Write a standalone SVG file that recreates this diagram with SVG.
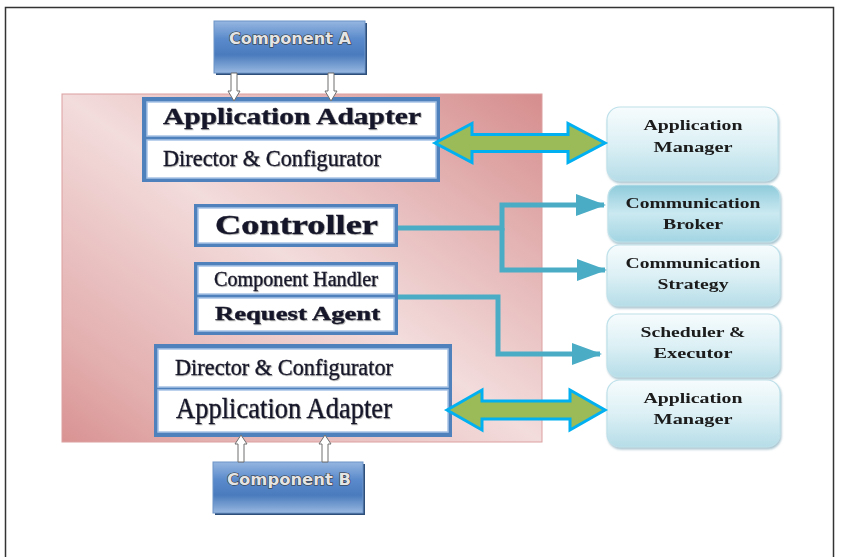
<svg xmlns="http://www.w3.org/2000/svg" width="844" height="557" viewBox="0 0 844 557">
<defs>
<linearGradient id="gPanel" x1="1" y1="0" x2="0" y2="1">
<stop offset="0" stop-color="#d68d8d"/>
<stop offset="0.5" stop-color="#f3dcdc"/>
<stop offset="0.85" stop-color="#e3aeae"/>
<stop offset="1" stop-color="#d99292"/>
</linearGradient>
<linearGradient id="gComp" x1="0" y1="0" x2="0" y2="1">
<stop offset="0" stop-color="#95b6e0"/>
<stop offset="0.35" stop-color="#5a8acb"/>
<stop offset="0.65" stop-color="#4a7bbd"/>
<stop offset="1" stop-color="#98b8e0"/>
</linearGradient>
<linearGradient id="gNode" x1="0" y1="0" x2="0" y2="1">
<stop offset="0" stop-color="#f7fcfd"/>
<stop offset="0.5" stop-color="#dcf0f5"/>
<stop offset="1" stop-color="#b6dde8"/>
</linearGradient>
<linearGradient id="gNodeDark" x1="0" y1="0" x2="0" y2="1">
<stop offset="0" stop-color="#8ecbdb"/>
<stop offset="0.5" stop-color="#cbe9f1"/>
<stop offset="1" stop-color="#a2d5e2"/>
</linearGradient>
<filter id="shadow" x="-10%" y="-10%" width="130%" height="140%">
<feDropShadow dx="1" dy="2" stdDeviation="1.2" flood-color="#6f9fb0" flood-opacity="0.6"/>
</filter>
<filter id="tshadow" x="-5%" y="-20%" width="110%" height="150%">
<feDropShadow dx="0.8" dy="0.8" stdDeviation="0.6" flood-color="#555" flood-opacity="0.5"/>
</filter>
<marker id="tri" markerUnits="userSpaceOnUse" markerWidth="30" markerHeight="22" viewBox="0 0 30 22" refX="28" refY="11" orient="auto">
<path d="M0,0 L30,11 L0,22 Z" fill="#4bacc6"/>
</marker>
</defs>
<style>
.blk{fill:#4f81bd;}
.row{fill:#ffffff;stroke:#a8c3e6;stroke-width:1.5;}
.st{font-family:"Liberation Serif","DejaVu Serif",serif;fill:#15152a;stroke:#15152a;stroke-width:0.35;}
.bold{font-weight:bold;}
.node{stroke:#bfe1ea;stroke-width:1.2;}
.nt{font-family:"Liberation Serif","DejaVu Serif",serif;font-weight:bold;font-size:15.5px;fill:#1a1a1a;text-anchor:middle;}
.ct{font-family:"DejaVu Sans","Liberation Sans",sans-serif;font-weight:bold;font-size:16px;fill:#e4e4e4;stroke:#333333;stroke-width:1.2;paint-order:stroke;text-anchor:middle;}
.conn{fill:none;stroke:#4bacc6;stroke-width:5;}
.dbl{fill:#9bbb59;stroke:#00b0f0;stroke-width:3;stroke-linejoin:miter;}
.hol{fill:#ffffff;stroke:#6f6f6f;stroke-width:1;}
</style>
<rect x="5.5" y="7.5" width="828" height="560" fill="#ffffff" stroke="#333333" stroke-width="1.5"/>

<g id="panel">
<rect x="62" y="94" width="480" height="348" fill="url(#gPanel)" stroke="#dca0a0" stroke-width="1"/>
</g>

<g id="componentA">
<rect x="216" y="23" width="151" height="52" fill="#2d4f7a"/>
<rect x="214" y="21" width="151" height="52" fill="url(#gComp)" stroke="#6d94c8" stroke-width="1"/>
<text class="ct" x="290" y="44" textLength="122" lengthAdjust="spacingAndGlyphs">Component A</text>
</g>

<g id="componentB">
<rect x="215" y="464" width="150" height="51" fill="#2d4f7a"/>
<rect x="213" y="462" width="150" height="51" fill="url(#gComp)" stroke="#6d94c8" stroke-width="1"/>
<text class="ct" x="289" y="485" textLength="124" lengthAdjust="spacingAndGlyphs">Component B</text>
</g>

<g id="topBlock">
<rect class="blk" x="142" y="97" width="298" height="85"/>
<rect class="row" x="147" y="102" width="289" height="34"/>
<rect class="row" x="147" y="140" width="289" height="38"/>
<text class="st bold" x="163" y="124" font-size="23" textLength="258" lengthAdjust="spacingAndGlyphs" filter="url(#tshadow)">Application Adapter</text>
<text class="st" x="163" y="166" font-size="24" textLength="218" lengthAdjust="spacingAndGlyphs" filter="url(#tshadow)">Director &amp; Configurator</text>
</g>

<g id="controller">
<rect class="blk" x="194" y="204" width="204" height="43"/>
<rect class="row" x="198" y="208" width="196" height="35"/>
<text class="st bold" x="215" y="234" font-size="28" textLength="163" lengthAdjust="spacingAndGlyphs" filter="url(#tshadow)">Controller</text>
</g>

<g id="handlerBlock">
<rect class="blk" x="194" y="262" width="204" height="73"/>
<rect class="row" x="198" y="266" width="196" height="28"/>
<rect class="row" x="198" y="298" width="196" height="33"/>
<text class="st" x="214" y="286" font-size="20" textLength="164" lengthAdjust="spacingAndGlyphs" filter="url(#tshadow)">Component Handler</text>
<text class="st bold" x="215" y="320" font-size="18" textLength="165" lengthAdjust="spacingAndGlyphs" filter="url(#tshadow)">Request Agent</text>
</g>

<g id="bottomBlock">
<rect class="blk" x="154" y="344" width="298" height="93"/>
<rect class="row" x="158" y="349" width="290" height="38"/>
<rect class="row" x="158" y="390" width="290" height="42"/>
<text class="st" x="175" y="375" font-size="24" textLength="218" lengthAdjust="spacingAndGlyphs" filter="url(#tshadow)">Director &amp; Configurator</text>
<text class="st" x="176" y="418" font-size="29" textLength="216" lengthAdjust="spacingAndGlyphs" filter="url(#tshadow)">Application Adapter</text>
</g>

<g id="appManager1" filter="url(#shadow)">
<rect class="node" x="607" y="107" width="171" height="74" rx="13" fill="url(#gNode)"/>
<text class="nt" x="693" y="130" textLength="99" lengthAdjust="spacingAndGlyphs">Application</text>
<text class="nt" x="693" y="152" textLength="79" lengthAdjust="spacingAndGlyphs">Manager</text>
</g>

<g id="commBroker" filter="url(#shadow)">
<rect class="node" x="608" y="185" width="172" height="57" rx="12" fill="url(#gNodeDark)"/>
<text class="nt" x="693" y="208" textLength="135" lengthAdjust="spacingAndGlyphs">Communication</text>
<text class="nt" x="693" y="229" textLength="60" lengthAdjust="spacingAndGlyphs">Broker</text>
</g>

<g id="commStrategy" filter="url(#shadow)">
<rect class="node" x="607" y="245" width="173" height="61" rx="12" fill="url(#gNode)"/>
<text class="nt" x="693" y="268" textLength="135" lengthAdjust="spacingAndGlyphs">Communication</text>
<text class="nt" x="693" y="289" textLength="71" lengthAdjust="spacingAndGlyphs">Strategy</text>
</g>

<g id="scheduler" filter="url(#shadow)">
<rect class="node" x="607" y="314" width="173" height="63" rx="12" fill="url(#gNode)"/>
<text class="nt" x="693" y="337" textLength="105" lengthAdjust="spacingAndGlyphs">Scheduler &amp;</text>
<text class="nt" x="693" y="358" textLength="79" lengthAdjust="spacingAndGlyphs">Executor</text>
</g>

<g id="appManager2" filter="url(#shadow)">
<rect class="node" x="607" y="380" width="173" height="67" rx="13" fill="url(#gNode)"/>
<text class="nt" x="693" y="403" textLength="99" lengthAdjust="spacingAndGlyphs">Application</text>
<text class="nt" x="693" y="424" textLength="79" lengthAdjust="spacingAndGlyphs">Manager</text>
</g>

<g id="connectors">
<path class="hol" d="M231,73 H237 V91 H240 L234,101 L228,91 H231 Z"/>
<path class="hol" d="M328,73 H334 V91 H337 L331,101 L325,91 H328 Z"/>
<path class="hol" d="M238,462 H244 V444 H247 L241,435 L235,444 H238 Z"/>
<path class="hol" d="M322,462 H328 V444 H331 L325,435 L319,444 H322 Z"/>
<polygon class="dbl" points="435,143 472,123.5 472,134.5 568,134.5 568,123.5 605,143 568,162.5 568,151.5 472,151.5 472,162.5"/>
<polygon class="dbl" points="447,410 482,390 482,401 570,401 570,390 605,410 570,430 570,419 482,419 482,430"/>
<path class="conn" d="M398,228 H502 V205 H604" marker-end="url(#tri)"/>
<path class="conn" d="M502,228 V270 H605" marker-end="url(#tri)"/>
<path class="conn" d="M398,297 H498 V354 H600" marker-end="url(#tri)"/>
</g>
</svg>
